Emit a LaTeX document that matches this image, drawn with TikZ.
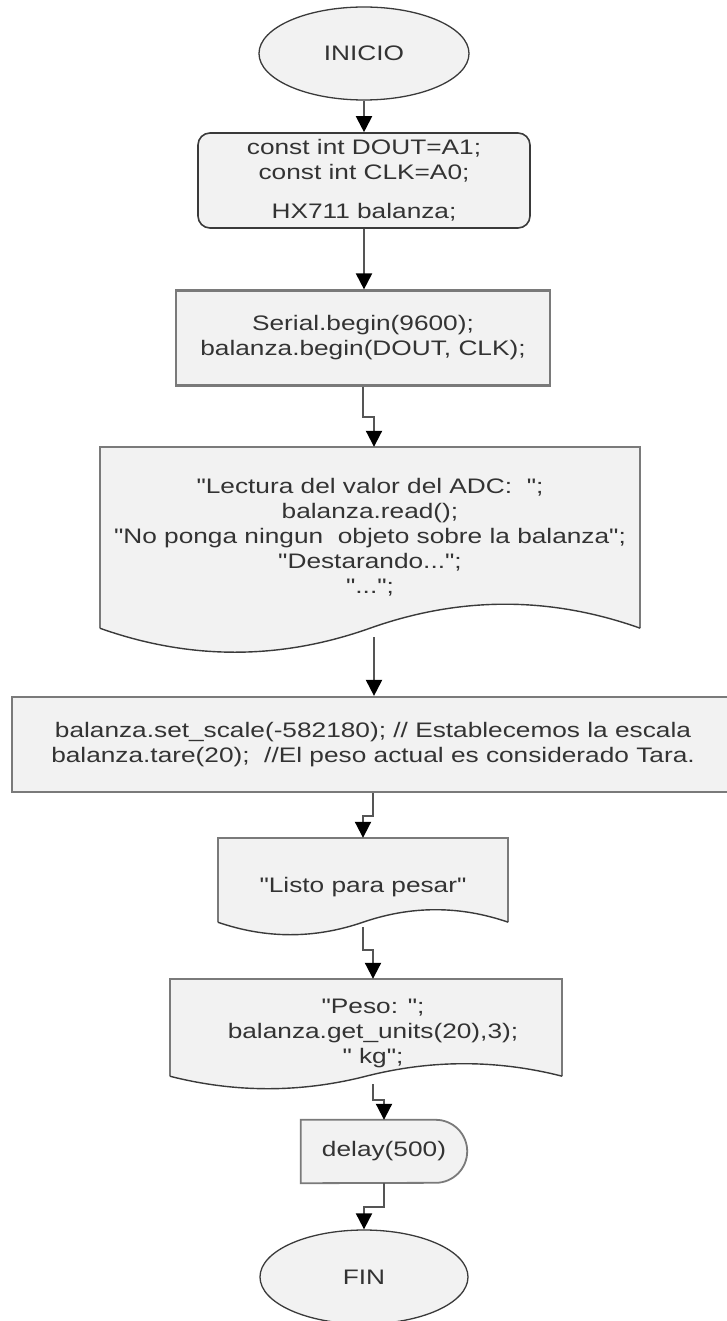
\documentclass[tikz,border=0pt]{standalone}
\usepackage{fontspec}
\setmainfont[FakeStretch=1.25, Ligatures=TeXOff]{Liberation Sans}
\usetikzlibrary{arrows.meta,shapes.geometric,calc}
\pgfdeclarelayer{background}
\pgfsetlayers{background,main}

\definecolor{boxfill}{HTML}{F2F2F2}
\definecolor{boxedge}{HTML}{7A7A7A}
\definecolor{darkedge}{HTML}{3A3A3A}
\definecolor{txt}{HTML}{333333}
\definecolor{wire}{HTML}{555555}

\tikzset{
  every node/.style={font=\fontsize{21}{25}\selectfont, text=txt, align=center},
  terminal/.style={ellipse, draw=darkedge, line width=1.3pt, fill=boxfill,
    minimum width=210pt, minimum height=93pt, inner sep=0pt},
  declbox/.style={rectangle, rounded corners=12pt, draw=darkedge, line width=1.6pt,
    fill=boxfill, minimum width=332pt, minimum height=95pt},
  procbox/.style={rectangle, draw=boxedge, line width=2.2pt, fill=boxfill,
    minimum height=95pt},
  frame/.style={rectangle, draw=none, inner sep=0pt},
  docfill/.style={fill=boxfill},
  docedge/.style={draw=boxedge, line width=2.2pt},
  docwave/.style={draw=darkedge, line width=1.4pt},
  delayedge/.style={draw=boxedge, line width=1.8pt, fill=boxfill},
  conn/.style={draw=wire, line width=2pt,
    -{Triangle[width=16pt,length=16pt,color=black]}},
}

% document symbol: straight top and sides, wavy bottom (#2 = wave height)
\newcommand\drawdoc[2]{%
  \fill[docfill] (#1.north west) -- (#1.north east) -- (#1.south east)
    .. controls ($(#1.south east)!1/3!(#1.south)+(0,-4/3*#2)$)
       and ($(#1.south east)!2/3!(#1.south)+(0,-4/3*#2)$) .. (#1.south)
    .. controls ($(#1.south)!1/3!(#1.south west)+(0,4/3*#2)$)
       and ($(#1.south)!2/3!(#1.south west)+(0,4/3*#2)$) .. (#1.south west) -- cycle;
  \draw[docedge] (#1.south west) -- (#1.north west) -- (#1.north east) -- (#1.south east);
  \draw[docwave] (#1.south east)
    .. controls ($(#1.south east)!1/3!(#1.south)+(0,-4/3*#2)$)
       and ($(#1.south east)!2/3!(#1.south)+(0,-4/3*#2)$) .. (#1.south)
    .. controls ($(#1.south)!1/3!(#1.south west)+(0,4/3*#2)$)
       and ($(#1.south)!2/3!(#1.south west)+(0,4/3*#2)$) .. (#1.south west);
}

\begin{document}
\begin{tikzpicture}[x=1pt,y=-1pt]
\useasboundingbox (0,0) rectangle (726,1321);

% start
\node[terminal] (ini) at (364,53.5) {INICIO};

% declarations
\node[declbox] (decl) at (364,180.5)
  {const int DOUT=A1;\\ const int CLK=A0;\\[14pt] HX711 balanza;};

% setup
\node[procbox, minimum width=374pt] (ser) at (363,338)
  {Serial.begin(9600);\\ balanza.begin(DOUT, CLK);};

% first output
\node[frame, minimum width=540pt, minimum height=181pt] (lect) at (370,537.5) {};
\node (lect-txt) at (370,537)
  {"Lectura del valor del ADC:\ \ ";\\ balanza.read();\\
   "No ponga ningun\ \ objeto sobre la balanza";\\ "Destarando...";\\ "...";};

% scale and tare
\node[procbox, minimum width=722pt] (scale) at (373,744.5)
  {balanza.set\_scale(-582180); // Establecemos la escala\\
   balanza.tare(20);\ \ //El peso actual es considerado Tara.};

% ready message
\node[frame, minimum width=290pt, minimum height=84pt] (listo) at (363,880) {};
\node (listo-txt) at (363,887) {"Listo para pesar"};

% weight output
\node[frame, minimum width=392pt, minimum height=97pt] (peso) at (366,1027.5) {};
\node (peso-txt) at (373,1033)
  {"Peso: ";\\ balanza.get\_units(20),3);\\ " kg";};

% delay
\node[frame, minimum width=166pt, minimum height=63pt] (delay) at (384,1151.5) {delay(500)};

% end
\node[terminal, minimum width=208pt, minimum height=94pt] (fin) at (364,1277) {FIN};

% connector ends on the document symbols
\coordinate (lect-in)  at ($(lect.north)+(4,0)$);
\coordinate (lect-out) at ($(lect.south)+(4,9)$);
\coordinate (peso-in)  at ($(peso.north)+(7,0)$);
\coordinate (peso-out) at ($(peso.south)+(7,8)$);

\begin{pgfonlayer}{background}
  \fill[white] (0,0) rectangle (726,1321);
  \drawdoc{lect}{24}
  \drawdoc{listo}{12.5}
  \drawdoc{peso}{12.5}
  \path[delayedge] (delay.north west) -- ($(delay.north east)+(-31.5,0)$)
    arc[start angle=90, end angle=-90, radius=31.5pt] -- (delay.south west) -- cycle;
\end{pgfonlayer}

% flow
\draw[conn] (ini.south) -- (decl.north);
\draw[conn] (decl.south) -- (decl.south |- ser.north);
\draw[conn] (ser.south) -- ++(0,30) -| (lect-in);
\draw[conn] (lect-out) -- (lect-out |- scale.north);
\draw[conn] (scale.south) -- ++(0,23) -| (listo.north);
\draw[conn] ($(listo.south)+(0,5)$) -- ++(0,23) -| (peso-in);
\draw[conn] (peso-out) -- ++(0,16) -| (delay.north);
\draw[conn] (delay.south) -- ++(0,24) -| (fin.north);
\end{tikzpicture}
\end{document}
